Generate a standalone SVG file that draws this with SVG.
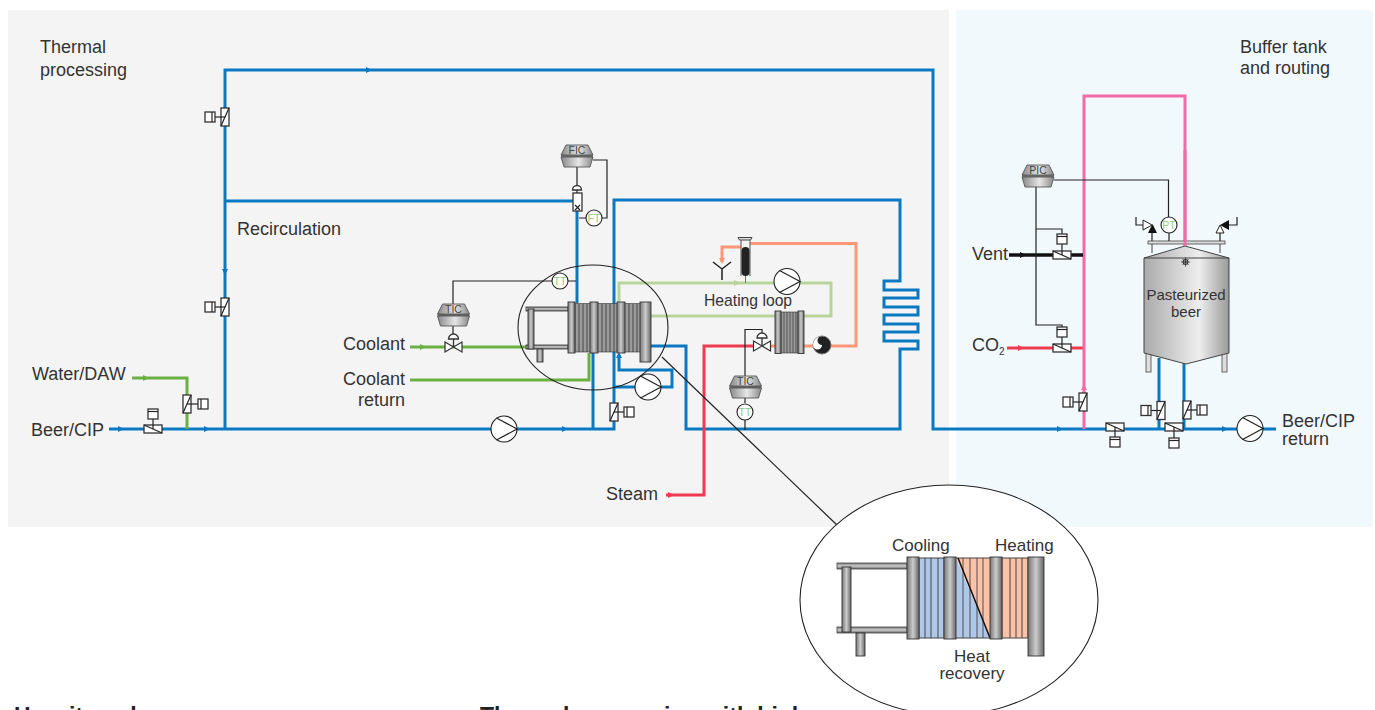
<svg xmlns="http://www.w3.org/2000/svg" width="1375" height="710" viewBox="0 0 1375 710">
<defs>
<style>
text{font-family:"Liberation Sans",Arial,sans-serif;fill:#333;font-size:18px}
.sl{font-size:15.700px}
.tag{font-size:10.500px;fill:#444;text-anchor:middle}
.tt{font-size:10.500px;fill:#8fcb7c;text-anchor:middle}
.b{fill:none;stroke:#0a79c2;stroke-width:3}
.g{fill:none;stroke:#6cb043;stroke-width:3}
.lg{fill:none;stroke:#b9d49a;stroke-width:3}
.o{fill:none;stroke:#fb9678;stroke-width:3}
.r{fill:none;stroke:#ef3a4f;stroke-width:3}
.p{fill:none;stroke:#f26aa6;stroke-width:3}
.k{fill:none;stroke:#222;stroke-width:1.200}
.c{fill:#fff;stroke:#222;stroke-width:1.100}
.v{fill:#fff;stroke:#333;stroke-width:1.300}
.hx{fill:url(#steel);stroke:#333;stroke-width:.9}
.fin{fill:#9b9b9b;stroke:#333;stroke-width:.6}
.ell{fill:none;stroke:#222;stroke-width:1.100}
</style>
<linearGradient id="steel"><stop offset="0" stop-color="#777"/><stop offset=".5" stop-color="#ccc"/><stop offset="1" stop-color="#666"/></linearGradient>
<linearGradient id="rail" x2="0" y2="1"><stop offset="0" stop-color="#777"/><stop offset=".5" stop-color="#ccc"/><stop offset="1" stop-color="#666"/></linearGradient>
<linearGradient id="tank"><stop offset="0" stop-color="#aaa"/><stop offset=".65" stop-color="#eee"/><stop offset="1" stop-color="#999"/></linearGradient>
<linearGradient id="ctrl"><stop offset="0" stop-color="#888"/><stop offset=".55" stop-color="#e6e6e6"/><stop offset="1" stop-color="#888"/></linearGradient>
<g id="pump"><circle r="13" class="c"/><path d="M-7.500,-11L13,0L-7.500,11" class="k"/></g>
<g id="ctl"><path d="M-11,-11H11L16,-1H-16Z M-16,1H16L13,11H-13Z" fill="url(#ctrl)" stroke="#555" stroke-width=".9"/><path d="M-16,0H16" stroke="#444" stroke-width="1.400"/></g>
<g id="vv"><rect x="-4" y="-9" width="8" height="18" class="v"/><path d="M-4,9L4,-9" class="k"/></g>
<g id="vh"><rect x="-9" y="-4" width="18" height="8" class="v"/><path d="M-9,-4L9,4" class="k"/></g>
<g id="act"><rect x="-5" y="-5" width="10" height="10" class="v"/><path d="M-5,-2.500H5" class="k"/></g>
<g id="actr"><rect x="-5" y="-5" width="10" height="10" class="v"/><path d="M-2,-5V5" class="k"/></g>
<g id="actl"><rect x="-5" y="-5" width="10" height="10" class="v"/><path d="M2,-5V5" class="k"/></g>
<g id="vb"><path d="M-8.500,-5L8.500,5V-5L-8.500,5Z" fill="#fff" stroke="#333" stroke-width="1.200"/><path d="M0,0V-8M-5,-8A5,5 0 0 1 5,-8Z" class="v"/></g>
<path id="ah" d="M-4,-3L2,0L-4,3Z"/>
</defs>

<rect x="8" y="10" width="941" height="517" fill="#f4f4f4"/>
<rect x="956" y="10" width="417" height="517" fill="#f2f9fd"/>

<g id="connectors">
<path class="b" d="M109,429H614V200H900V281H884V290H918V298H884V307H918V315H884V324H918V332H884V341H918V349H900V429H686V346H651"/>
<path class="b" d="M225,429V70H933V429H1237M1263,429H1276"/>
<path class="b" d="M225,201H577V303M593,352V429"/>
<path class="b" d="M619,355V370H672V387H661M614,387H636"/>
<path class="b" d="M1159,358V429M1184,362V429"/>
<path class="g" d="M132,378H187V429M410,347H527M410,380H589V353"/>
<path class="lg" d="M619,304V283H831V316H651"/>
<path class="o" d="M722,262V247H741M750,243.500H856V346H830M813,346H804M775,346H770"/>
<path class="r" d="M666,495H704V346H754M1007,348H1083"/>
<path class="p" d="M1084,429V96H1185V246"/>
<path d="M1009,255H1083" fill="none" stroke="#111" stroke-width="3.500"/>
<path class="k" d="M453,304V281H552M568,281H576M579,218H586M602,218H607V160H593M577,167V186M577,190V193"/>
<path class="k" d="M745,398V403M745,420V430M745,376V329.500H762V333"/>
<path class="k" d="M1054,180H1168.500V217M1036,187V325H1062V327M1036,229H1062V234"/>
<path d="M662,357L838,526" class="k"/>
<path d="M453,326V334" class="k"/>
<g fill="#0a79c2"><use href="#ah" x="370" y="70"/><use href="#ah" x="122" y="429"/><use href="#ah" x="208" y="429"/><use href="#ah" x="566" y="429"/><use href="#ah" x="1061" y="429"/><use href="#ah" x="1226" y="429"/><use href="#ah" transform="translate(225,273) rotate(90)"/><use href="#ah" transform="translate(619,354) rotate(-90)"/></g>
<g fill="#6cb043"><use href="#ah" x="147" y="378"/><use href="#ah" x="424" y="347"/></g>
<use href="#ah" x="738" y="283" fill="#b9d49a"/>
<use href="#ah" transform="translate(722,262) rotate(90)" fill="#fb9678"/>
<use href="#ah" x="1024" y="255" fill="#111"/>
<use href="#ah" x="1022" y="348" fill="#ef3a4f"/>
<use href="#ah" x="672" y="495" fill="#ef3a4f"/>
<use href="#ah" transform="translate(1084,386) rotate(-90)" fill="#f26aa6"/>
<path d="M745.500,283V273" stroke="#2a9d5c" fill="none"/>
</g>

<g id="text-labels">
<text x="40" y="53">Thermal</text><text x="40" y="76">processing</text>
<text x="237" y="235">Recirculation</text>
<text x="32" y="380">Water/DAW</text>
<text x="31" y="436">Beer/CIP</text>
<text x="343" y="350">Coolant</text>
<text x="343" y="385">Coolant</text><text x="358" y="406">return</text>
<text x="606" y="500">Steam</text>
<text x="704" y="306" class="sl">Heating loop</text>
<text x="972" y="260">Vent</text>
<text x="972" y="351">CO<tspan font-size="10" dy="4">2</tspan></text>
<text x="1240" y="53">Buffer tank</text><text x="1240" y="74">and routing</text>
<text x="1282" y="427">Beer/CIP</text><text x="1282" y="445">return</text>
</g>

<g id="valve-water"><use href="#vv" x="187" y="404"/><path class="k" d="M187,404H198"/><use href="#actr" x="203" y="404"/></g>
<g id="valve-beer"><use href="#vh" x="153" y="429"/><path class="k" d="M153,429V419"/><use href="#act" x="153" y="414"/></g>
<g id="valve-top"><use href="#vv" x="225" y="117"/><path class="k" d="M225,117H215"/><use href="#actl" x="210" y="117"/></g>
<g id="valve-mid"><use href="#vv" x="225" y="307"/><path class="k" d="M225,307H215"/><use href="#actl" x="210" y="307"/></g>
<g id="pump-main"><use href="#pump" x="504" y="429"/></g>
<g id="pump-booster"><use href="#pump" x="648" y="387"/></g>
<g id="valve-bypass"><use href="#vv" x="614" y="412"/><path class="k" d="M614,412H624"/><use href="#actr" x="629" y="412"/></g>
<g id="fic"><use href="#ctl" x="577" y="156"/><text class="tag" x="577" y="154">FIC</text>
<path d="M572.500,190A4.500,4.500 0 0 1 581.500,190Z" class="v"/><rect x="573" y="193" width="9" height="18" class="v"/><path d="M575,205L580,210M580,205L575,210" class="k"/></g>
<g id="ft"><circle cx="594" cy="218" r="8" class="c"/><text class="tt" x="594" y="221.500">FT</text></g>
<g id="tt1"><circle cx="560" cy="281" r="8" class="c"/><text class="tt" x="560" y="284.500">TT</text></g>
<g id="tic1"><use href="#ctl" x="453.500" y="315"/><text class="tag" x="453.500" y="313">TIC</text></g>
<g id="valve-coolant"><use href="#vb" x="453.500" y="347"/></g>

<g id="phe-main">
<rect x="526" y="307" width="42" height="4" fill="url(#rail)" stroke="#333" stroke-width=".8"/><rect x="526" y="345" width="42" height="4" fill="url(#rail)" stroke="#333" stroke-width=".8"/>
<rect x="528" y="309" width="6" height="40" class="hx"/><rect x="537" y="349" width="6" height="13" class="hx"/>
<rect x="575" y="303.500" width="66" height="48.500" class="fin"/>
<path d="M579,304V352M583,304V352M587,304V352M602,304V352M606,304V352M610,304V352M614,304V352M629,304V352M633,304V352M637,304V352" stroke="#333" stroke-width=".8"/>
<rect x="568" y="302" width="7" height="51" class="hx"/><rect x="590" y="302" width="8" height="51" class="hx"/><rect x="617" y="302" width="8" height="51" class="hx"/><rect x="640" y="302" width="11" height="60" class="hx"/>
</g>
<ellipse id="zoom-ring" cx="593" cy="327.500" rx="75" ry="62.500" class="ell"/>

<g id="vent-y"><path d="M722,280V269L713,262M722,269L731,262" fill="none" stroke="#222" stroke-width="1.500"/></g>
<g id="sight"><path d="M738,237.500H752L750.500,240H739.500Z" fill="#ddd" stroke="#444"/><path d="M741,240V276M750,240V276" stroke="#555"/><rect x="741.500" y="247" width="8" height="29" rx="4" fill="#222"/></g>
<g id="pump-loop"><use href="#pump" x="787" y="281.500"/></g>
<g id="phe-small"><rect x="781" y="312" width="17" height="41" class="fin"/><path d="M784,312V353M787,312V353M790,312V353M793,312V353M796,312V353" stroke="#333" stroke-width=".7"/><rect x="775" y="311" width="6" height="42.500" class="hx"/><rect x="798" y="311" width="6" height="42.500" class="hx"/></g>
<g id="valve-steam"><use href="#vb" x="762" y="346"/></g>
<g id="turbine"><circle cx="822" cy="345" r="9" fill="#222" stroke="#777"/><path d="M822,336A4.500,4.500 0 0 0 822,345A4.500,4.500 0 0 1 813,345A9,9 0 0 1 822,336" fill="#fff"/></g>
<g id="tic2"><use href="#ctl" x="745.500" y="387"/><text class="tag" x="745.500" y="385">TIC</text></g>
<g id="tt2"><circle cx="745" cy="412" r="8" class="c"/><text class="tt" x="745" y="415.500">TT</text></g>

<g id="pic"><use href="#ctl" x="1038" y="176"/><text class="tag" x="1038" y="174">PIC</text></g>
<g id="valve-vent"><use href="#vh" x="1062" y="255"/><path class="k" d="M1062,255V244"/><use href="#act" x="1062" y="239"/></g>
<g id="valve-co2"><use href="#vh" x="1062" y="348"/><path class="k" d="M1062,348V337"/><use href="#act" x="1062" y="332"/></g>
<g id="valve-pink"><use href="#vv" x="1083" y="402"/><path class="k" d="M1083,402H1073"/><use href="#actl" x="1068" y="402"/></g>
<g id="valve-ret1"><use href="#vh" x="1115" y="427"/><path class="k" d="M1115,427V437"/><use href="#act" x="1115" y="442"/></g>
<g id="valve-ret2"><use href="#vh" x="1174" y="427"/><path class="k" d="M1174,427V438"/><use href="#act" x="1174" y="443"/></g>
<g id="valve-left"><use href="#vv" x="1161" y="410.500"/><path class="k" d="M1161,410.500H1151"/><use href="#actl" x="1146" y="410.500"/></g>
<g id="valve-right"><use href="#vv" x="1187" y="410"/><path class="k" d="M1187,410H1197"/><use href="#actr" x="1202" y="410"/></g>
<g id="pump-out"><use href="#pump" x="1250" y="428.500"/></g>

<g id="tank">
<rect x="1146" y="352" width="5" height="20" fill="#ddd" stroke="#666"/><rect x="1222" y="352" width="5" height="20" fill="#ddd" stroke="#666"/>
<path d="M1144,258L1185,246L1229,258V353L1186,364L1144,353Z" fill="url(#tank)" stroke="#444"/>
<path d="M1144,258H1229" stroke="#444"/>
<path d="M1152,244V253M1220,244V253" stroke="#444"/>
<rect x="1148" y="241" width="77" height="3" fill="#ddd" stroke="#444" stroke-width=".8"/>
<path class="p" d="M1185,150V246"/>
<path class="k" d="M1152,241V233M1169,241V233M1220,241V233"/>
<path class="k" d="M1136,217V225H1143M1237,217V225H1229"/>
<path d="M1143,220L1152,225L1143,230Z" fill="#fff" stroke="#222"/><path d="M1148,233L1152.500,224L1157,233Z" fill="#111"/>
<path d="M1229,220L1220,225L1229,230Z" fill="#111"/><path d="M1216,233L1220,225L1224,233Z" fill="#fff" stroke="#222"/>
<circle cx="1169" cy="225" r="8" class="c"/><text class="tt" x="1169" y="228.500">PT</text>
<circle cx="1185.500" cy="262" r="2.500" fill="none" stroke="#222"/><path d="M1185.500,257.500V266.500M1181,262H1190M1182.500,259L1188.500,265M1188.500,259L1182.500,265" stroke="#222" stroke-width=".7"/>
<text x="1186" y="300" text-anchor="middle" style="font-size:15px">Pasteurized</text>
<text x="1186" y="317" text-anchor="middle" style="font-size:15px">beer</text>
</g>

<g id="detail">
<ellipse cx="949" cy="600" rx="149" ry="115" fill="#fff" stroke="#222" stroke-width="1.100"/>
<rect x="837" y="563" width="70" height="6" fill="url(#rail)" stroke="#444" stroke-width=".8"/><rect x="837" y="627" width="70" height="6" fill="url(#rail)" stroke="#444" stroke-width=".8"/>
<rect x="842" y="567" width="9" height="65" class="hx"/><rect x="856" y="633" width="9" height="23" class="hx"/>
<rect x="919" y="558" width="25" height="80" fill="#afc8e8" stroke="#444"/>
<path d="M925,558V638M931,558V638M938,558V638" stroke="#444" fill="none"/>
<path d="M956,558H990V638Z" fill="#fcc2a8"/>
<path d="M956,558L990,638H956Z" fill="#afc8e8"/>
<path d="M963,558V638M970,558V638M977,558V638M983,558V638" stroke="#444" stroke-width=".9"/>
<path d="M956,558H990M956,638H990" stroke="#444"/>
<rect x="1002" y="558" width="26" height="80" fill="#fcc2a8" stroke="#444"/>
<path d="M1010,558V638M1016,558V638M1022,558V638" stroke="#444"/>
<path d="M958,558L990,638" stroke="#111" stroke-width="1.500"/>
<rect x="907" y="557" width="12" height="82" class="hx"/><rect x="944" y="557" width="12" height="82" class="hx"/><rect x="990" y="557" width="12" height="82" class="hx"/><rect x="1028" y="557" width="16" height="99" class="hx"/>
<text x="892" y="551" style="font-size:17px">Cooling</text><text x="995" y="551" style="font-size:17px">Heating</text>
<text x="972" y="662" text-anchor="middle" style="font-size:17px">Heat</text><text x="972" y="679" text-anchor="middle" style="font-size:17px">recovery</text>
</g>

<g id="cut-text">
<text x="14" y="724" style="font-size:23px;font-weight:bold;fill:#222">How it works</text>
<text x="480" y="724" style="font-size:23px;font-weight:bold;fill:#222">Thermal processing with high</text>
</g>
</svg>
